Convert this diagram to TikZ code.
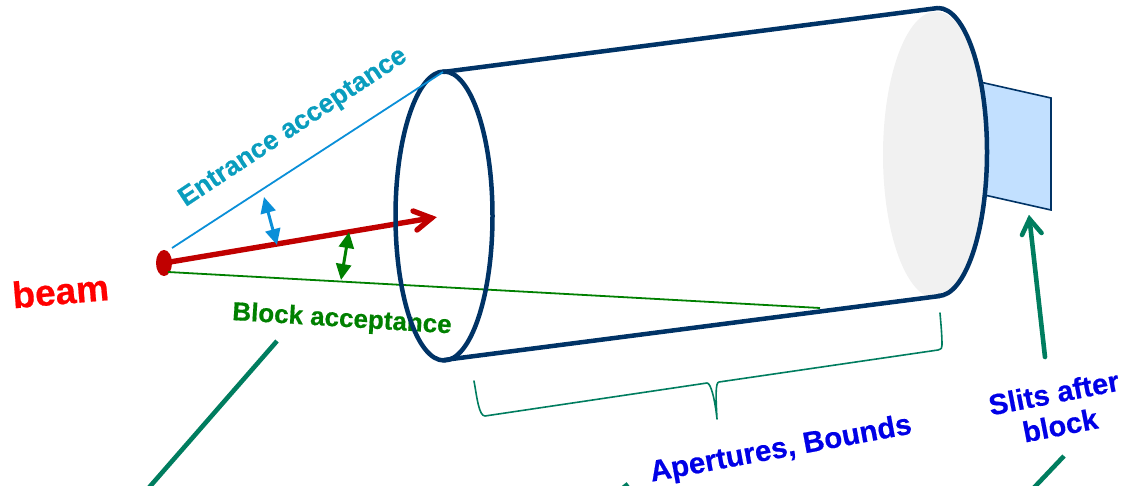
\documentclass[tikz,border=0pt]{standalone}
\usepackage{fontspec}
\setmainfont{Liberation Sans}[BoldFeatures={FakeBold=0.5}]
\usetikzlibrary{arrows.meta}
\definecolor{navy}{RGB}{0,51,102}
\definecolor{teal2}{RGB}{0,125,95}
\definecolor{darkred}{RGB}{192,0,0}
\definecolor{entline}{RGB}{10,143,216}
\definecolor{enttext}{RGB}{10,157,190}
\definecolor{grn}{RGB}{0,128,0}
\definecolor{blu}{RGB}{0,0,230}
\definecolor{slitfill}{RGB}{194,224,255}
\definecolor{capgrey}{RGB}{241,241,241}
\tikzset{
  label text/.style={font=\bfseries\fontsize{#1}{#1}\selectfont,inner sep=0pt},
  navy line/.style={draw=navy,line width=4.5pt},
  pointer/.style={draw=teal2,line width=4.6pt},
  brace line/.style={draw=teal2,line width=1.6pt,line cap=round,line join=round},
  double tip/.style={line width=3pt,{Triangle[length=16pt,width=15pt]}-{Triangle[length=16pt,width=15pt]}},
}
\begin{document}
\begin{tikzpicture}[x=1pt,y=-1pt]
\useasboundingbox (0,0) rectangle (1125,486);
\clip (0,0) rectangle (1125,486);
% coordinates
\coordinate (entTop) at (443,72);
\coordinate (entBot) at (444,360);
\coordinate (capTop) at (938,8);
\coordinate (capBot) at (940,296);
\coordinate (source) at (164,263);
\coordinate (beamEnd) at (431.5,218);
\coordinate (blueStart) at (172,248);
\coordinate (greenStart) at (168,272);
\coordinate (greenEnd) at (820,308);
\coordinate (blueA) at (264,197);
\coordinate (blueB) at (277,245);
\coordinate (greenA) at (349,232);
\coordinate (greenB) at (341,280);
\coordinate (slitArrowFrom) at (1045,357);
\coordinate (slitArrowTo) at (1029.5,219);
\coordinate (ptrA1) at (277,341);
\coordinate (ptrA2) at (146,491);
\coordinate (ptrB1) at (1064,456);
\coordinate (ptrB2) at (1028,494);
\coordinate (ptrC1) at (628,484);
\coordinate (ptrC2) at (618,492);
% slit
\draw[navy,line width=1.6pt,fill=slitfill,line join=miter] (980,82) -- (1051,98) -- (1051,210) -- (980,194) -- cycle;
% cap
\fill[capgrey] (936,155) ellipse [x radius=53, y radius=143.5];
% labels beneath ellipse
\node[label text=26,text=grn,rotate=-3.5] (block) at (342,320) {Block acceptance};
% beam
\draw[line width=5.4pt,darkred,line cap=round] (source) -- (beamEnd);
\draw[line width=5.4pt,darkred,line cap=round,line join=miter] (413,211) -- (beamEnd) -- (417,230);
\fill[darkred] (source) ellipse [x radius=8, y radius=13];
% green acceptance
\draw[grn,line width=1.8pt] (greenStart) -- (greenEnd);
\draw[double tip,grn] (greenA) -- (greenB);
\draw[double tip,entline] (blueA) -- (blueB);
% cylinder
\draw[navy line] (entTop) -- (capTop);
\draw[navy line] (entBot) -- (capBot);
\draw[navy line] (444,216) ellipse [x radius=48.5, y radius=144.5];
\draw[navy line] (capTop) arc [start angle=-90, end angle=90, x radius=49, y radius=144];
\draw[entline,line width=1.8pt] (blueStart) -- (entTop);
% brace
\draw[brace line] (474,381) .. controls (477,398) and (479,416) .. (485,416) -- (707,383) .. controls (711,383) and (715,400) .. (717,419) .. controls (716,400) and (715,382) .. (719,382) -- (938,350) .. controls (942,349) and (942,347) .. (942,345) .. controls (942,335) and (941,325) .. (940,313);
% pointers
\draw[pointer] (ptrA1) -- (ptrA2);
\draw[pointer] (ptrB1) -- (ptrB2);
\draw[pointer] (ptrC1) -- (ptrC2);
\draw[pointer,line cap=round] (slitArrowFrom) -- (slitArrowTo);
\draw[pointer,line cap=round,line join=miter] (1022,235) -- (slitArrowTo) -- (1041.5,233);
% text
\node[label text=37,text=red,rotate=5] (beam) at (60.5,291) {beam};
\node[label text=26.7,text=enttext,rotate=33.5] (entrance) at (293.5,128) {Entrance acceptance};
\node[label text=29.5,text=blu,rotate=10.5] (apert) at (781,450) {Apertures, Bounds};
\node[label text=29,text=blu,rotate=11,align=center] (slits) at (1057,409) {Slits after\\[4pt]block};
\end{tikzpicture}
\end{document}
